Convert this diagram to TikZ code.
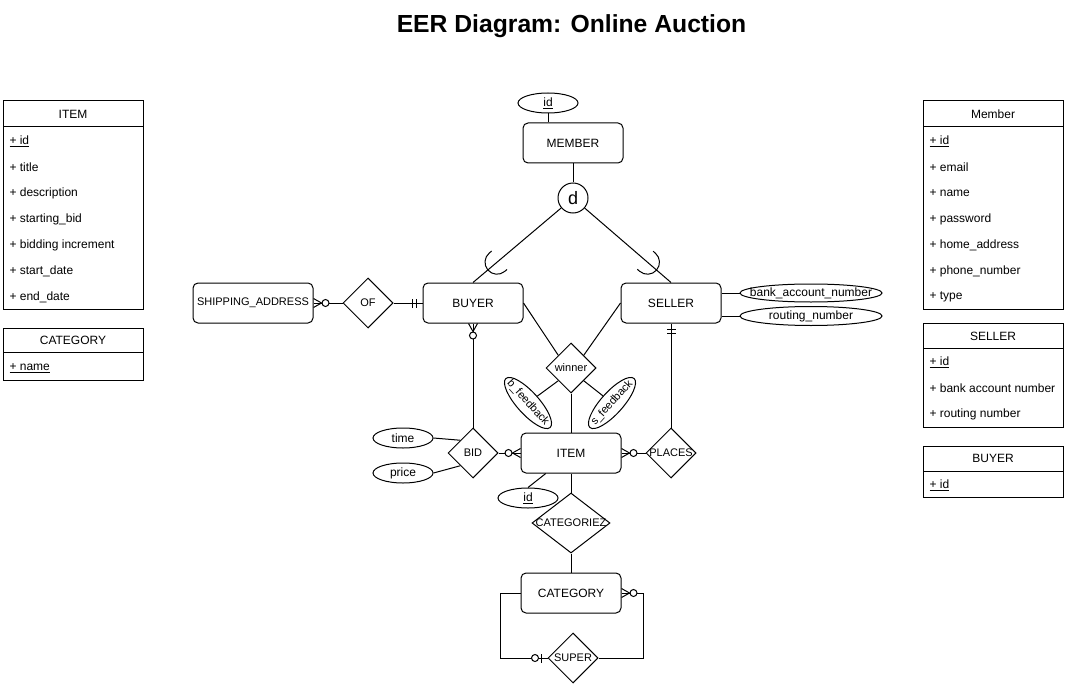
\documentclass[tikz,border=0pt]{standalone}
\usepackage{fontspec}
\setmainfont{Liberation Sans}
\usetikzlibrary{shapes.geometric,calc}

% box for text that must not widen its shape
\newcommand{\ctxt}[1]{\makebox[0pt]{#1}}

% crow's foot markers, #1 = point on the entity, #2 = direction away from it
\newcommand{\zeromany}[2]{%
  \begin{scope}[shift={(#1)}, rotate=#2]
    \draw (0pt,4.5pt) -- (8pt,0pt) -- (0pt,-4.5pt);
    \draw[fill=white] (12pt,0pt) circle[radius=3.5pt];
  \end{scope}}
\newcommand{\onlyone}[2]{%
  \begin{scope}[shift={(#1)}, rotate=#2]
    \draw (6pt,4.5pt) -- (6pt,-4.5pt);
    \draw (10pt,4.5pt) -- (10pt,-4.5pt);
  \end{scope}}
\newcommand{\zeroone}[2]{%
  \begin{scope}[shift={(#1)}, rotate=#2]
    \draw (6pt,4.5pt) -- (6pt,-4.5pt);
    \draw[fill=white] (12.5pt,0pt) circle[radius=3.5pt];
  \end{scope}}
% subset arc on a specialisation line
\newcommand{\subsetarc}[2]{%
  \begin{scope}[shift={(#1)}, rotate=#2]
    \draw (3pt,12pt) -- (0pt,12pt) arc[start angle=90, end angle=270, radius=12pt] -- (3pt,-12pt);
  \end{scope}}

\tikzset{
  ent/.style={draw, rounded corners=5pt, minimum width=100pt, minimum height=40pt, inner sep=0pt},
  rel/.style={diamond, draw, minimum width=50pt, minimum height=50pt, inner sep=0pt},
  attr/.style={ellipse, draw, minimum width=60pt, minimum height=20pt, inner sep=0pt},
  smalltext/.style={font=\fontsize{11}{13}\selectfont},
  thead/.style={inner sep=0pt},
  trow/.style={anchor=west, inner sep=0pt}
}

\begin{document}
\begin{tikzpicture}[x=1pt, y=-1pt, line width=1pt, font=\fontsize{12}{14}\selectfont]
\useasboundingbox (0,0) rectangle (1067,687);

% Title
\node[anchor=base, font=\bfseries\fontsize{24.7}{29}\selectfont] (title) at (571.5,33) {EER Diagram: Online Auction};

% Entities
\node[ent] (member) at (573,143) {MEMBER};
\node[ent] (buyer) at (473,303) {BUYER};
\node[ent] (seller) at (671,303) {SELLER};
\node[ent, minimum width=120pt, smalltext] (shipping) at (253,303) {SHIPPING\_ADDRESS};
\node[ent] (item) at (571,453) {ITEM};
\node[ent] (category) at (571,593) {CATEGORY};

% Disjoint specialisation
\node[circle, draw, minimum size=30pt, inner sep=0pt, font=\fontsize{18}{20}\selectfont] (dcirc) at (573,198) {d};

% Relationships
\node[rel, smalltext] (of) at (368,303) {\ctxt{OF}};
\node[rel, smalltext] (winner) at (571,368) {\ctxt{winner}};
\node[rel, smalltext] (bid) at (473,453) {\ctxt{BID}};
\node[rel, smalltext] (places) at (671,453) {\ctxt{PLACES}};
\node[rel, smalltext, minimum width=78pt, minimum height=60pt] (categ) at (571,523) {\ctxt{CATEGORIEZ}};
\node[rel, smalltext] (super) at (573,658) {\ctxt{SUPER}};

% Attributes
\node[attr] (mid) at (548,103) {\ctxt{\underline{id}}};
\node[attr, minimum width=142pt, minimum height=18pt] (bank) at (811,293) {\ctxt{bank\_account\_number}};
\node[attr, minimum width=142pt, minimum height=19pt] (routing) at (811,316) {\ctxt{routing\_number}};
\node[attr] (time) at (403,438) {\ctxt{time}};
\node[attr] (price) at (403,473) {\ctxt{price}};
\node[attr] (iid) at (528,498) {\ctxt{\underline{id}}};
\node[attr, smalltext, minimum width=66pt, minimum height=22pt, rotate=-48] (bfb) at (528,403) {\ctxt{b\_feedback}};
\node[attr, smalltext, minimum width=66pt, minimum height=22pt, rotate=48] (sfb) at (612,403) {\ctxt{s\_feedback}};

% Connectors
\draw (mid.south) -- (mid.south |- member.north);
\draw (member) -- (dcirc);
\draw (dcirc) -- (buyer.north);
\draw (dcirc) -- (seller.north);
\draw (shipping) -- (of);
\draw (of) -- (buyer);
\draw (bank.west -| seller.east) -- (bank.west);
\draw (routing.west -| seller.east) -- (routing.west);
\draw (buyer.east) -- ($(winner.west)!.5!(winner.north)$);
\draw (seller.west) -- ($(winner.east)!.5!(winner.north)$);
\draw (winner) -- (item);
\draw ($(winner.west)!.5!(winner.south)$) -- (bfb);
\draw ($(winner.east)!.5!(winner.south)$) -- (sfb);
\draw (buyer) -- (bid);
\draw (seller) -- (places);
\draw (bid) -- (item);
\draw (item) -- (places);
\draw (time.east) -- ($(bid.west)!.5!(bid.north)$);
\draw (price.east) -- ($(bid.west)!.5!(bid.south)$);
\draw (iid.north) -- ($(item.south west)!.25!(item.south east)$);
\draw (item) -- (categ);
\draw (categ) -- (category);
\draw (category.west) -- ++(-20,0) |- (super.west);
\draw (category.east) -- ++(22,0) |- (super.east);

% Markers
\subsetarc{$(buyer.north)!.24!(dcirc)$}{40}
\subsetarc{$(seller.north)!.24!(dcirc)$}{139}
\zeromany{shipping.east}{0}
\onlyone{buyer.west}{180}
\zeromany{buyer.south}{-90}
\onlyone{seller.south}{-90}
\zeromany{item.west}{180}
\zeromany{item.east}{0}
\zeromany{category.east}{0}
\zeroone{super.west}{180}

% Table: ITEM
\draw (3,101) rectangle (143,309);
\draw (3,127) -- (143,127);
\node[thead] (titem) at (73,114) {ITEM};
\node[trow] (titem-0) at (9,141) {\underline{+ id}};
\foreach \r [count=\i] in {+ title, + description, + starting\_bid, + bidding increment, + start\_date, + end\_date}
  \node[trow] (titem-\i) at (9,141+26*\i) {\r};

% Table: CATEGORY
\draw (3,328) rectangle (143,380);
\draw (3,352) -- (143,352);
\node[thead] (tcat) at (73,340) {CATEGORY};
\node[trow] (tcat-0) at (9,368) {\underline{+ name}};

% Table: Member
\draw (923,101) rectangle (1063,309);
\draw (923,127) -- (1063,127);
\node[thead] (tmem) at (993,114) {Member};
\node[trow] (tmem-0) at (929,141) {\underline{+ id}};
\foreach \r [count=\i] in {+ email, + name, + password, + home\_address, + phone\_number, + type}
  \node[trow] (tmem-\i) at (929,141+26*\i) {\r};

% Table: SELLER
\draw (923,323) rectangle (1063,427);
\draw (923,348) -- (1063,348);
\node[thead] (tsel) at (993,336) {SELLER};
\node[trow] (tsel-0) at (929,362) {\underline{+ id}};
\foreach \r [count=\i] in {+ bank account number, + routing number}
  \node[trow] (tsel-\i) at (929,362+26*\i) {\r};

% Table: BUYER
\draw (923,446) rectangle (1063,497);
\draw (923,471) -- (1063,471);
\node[thead] (tbuy) at (993,458) {BUYER};
\node[trow] (tbuy-0) at (929,485) {\underline{+ id}};

\end{tikzpicture}
\end{document}
